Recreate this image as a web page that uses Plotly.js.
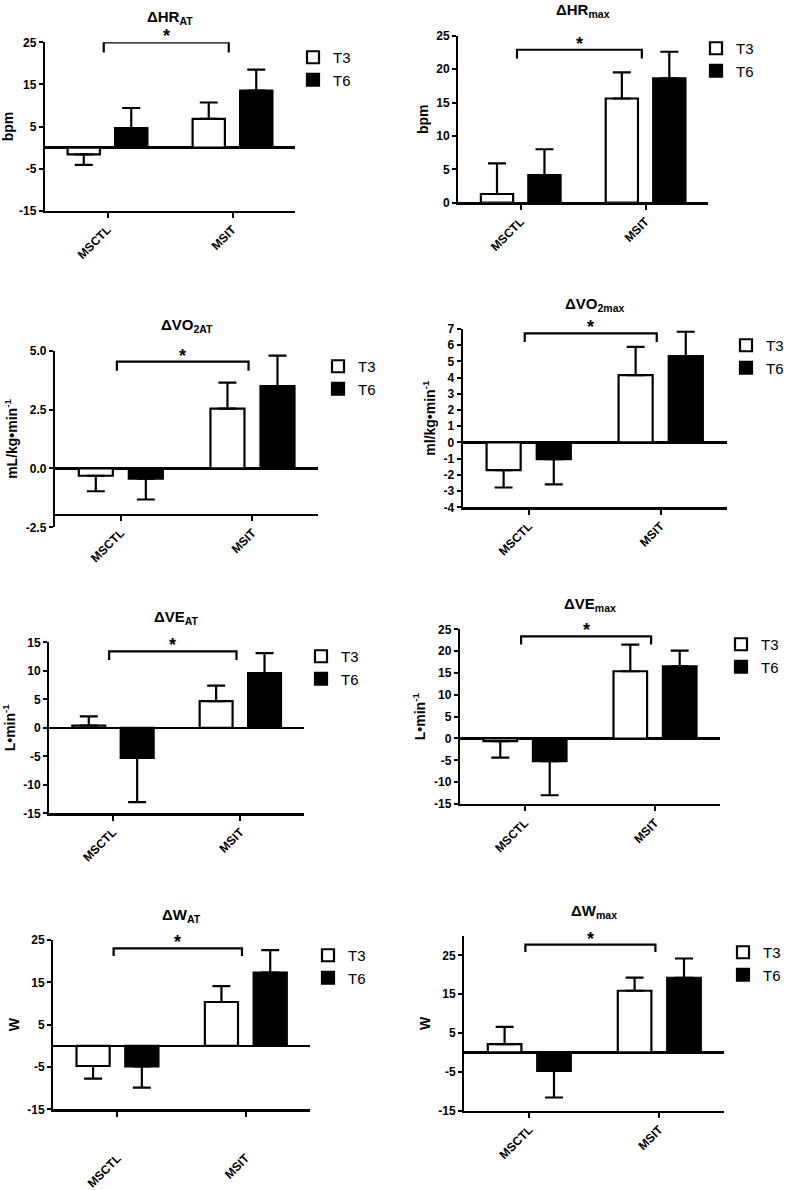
<!DOCTYPE html>
<html>
<head>
<meta charset="utf-8">
<script src="https://cdn.plot.ly/plotly-3.0.1.min.js"></script>
<style>html,body{margin:0;padding:0;background:#fff}</style>
</head>
<body>
<div id="chart" style="width:790px;height:1190px"></div>
<script>
// Groups and series
const groups = ['MSCTL', 'MSIT'];
const series = ['T3', 'T6'];

// Panel titles and units
const panelTitles = ['ΔHR<sub>AT</sub>', 'ΔHR<sub>max</sub>', 'ΔVO<sub>2AT</sub>', 'ΔVO<sub>2max</sub>',
                     'ΔVE<sub>AT</sub>', 'ΔVE<sub>max</sub>', 'ΔW<sub>AT</sub>', 'ΔW<sub>max</sub>'];
const unitTitles = ['bpm', 'bpm', 'mL/kg•min<sup>-1</sup>', 'ml/kg•min<sup>-1</sup>',
                    'L•min<sup>-1</sup>', 'L•min<sup>-1</sup>', 'W', 'W'];

// Mean change per panel, [MSCTL, MSIT]
const t3Mean = [[-1.6, 6.8], [1.3, 15.6], [-0.31, 2.54], [-1.71, 4.16],
                [0.4, 4.67], [-0.6, 15.4], [-4.77, 10.35], [2.14, 15.9]];
const t3Err  = [[2.5, 3.9], [4.6, 3.9], [0.66, 1.10], [1.07, 1.74],
                [1.6, 2.73], [3.8, 6.1], [2.98, 3.75], [4.46, 3.4]];
const t6Mean = [[4.6, 13.5], [4.15, 18.6], [-0.43, 3.50], [-1.03, 5.33],
                [-5.26, 9.58], [-5.2, 16.5], [-4.85, 17.3], [-4.74, 19.2]];
const t6Err  = [[4.8, 5.0], [3.85, 4.0], [0.89, 1.29], [1.55, 1.50],
                [7.79, 3.52], [7.8, 3.6], [5.05, 5.3], [6.86, 5.0]];

// Y scales and tick labels
const yRanges = [[-15, 25], [0, 25], [-2.5, 5], [-4, 7], [-15, 15], [-15, 25], [-15, 25], [-15, 30]];
const yTicks = [
  [-15, -5, 5, 15, 25],
  [0, 5, 10, 15, 20, 25],
  [-2.5, 0, 2.5, 5],
  [-4, -3, -2, -1, 0, 1, 2, 3, 4, 5, 6, 7],
  [-15, -10, -5, 0, 5, 10, 15],
  [-15, -10, -5, 0, 5, 10, 15, 20, 25],
  [-15, -5, 5, 15, 25],
  [-15, -5, 5, 15, 25]
];
const yTickText = [
  ['-15', '-5', '5', '15', '25'],
  ['0', '5', '10', '15', '20', '25'],
  ['-2.5', '0.0', '2.5', '5.0'],
  ['-4', '-3', '-2', '-1', '0', '1', '2', '3', '4', '5', '6', '7'],
  ['-15', '-10', '-5', '0', '5', '10', '15'],
  ['-15', '-10', '-5', '0', '5', '10', '15', '20', '25'],
  ['-15', '-5', '5', '15', '25'],
  ['-15', '-5', '5', '15', '25']
];

// Significance bracket MSCTL vs MSIT: bar height and end of legs
const bracketTop = [25, 22.9, 4.54, 6.73, 13.4, 23.4, 23.0, 27.8];
const bracketLeg = [22.6, 21.6, 4.15, 6.2, 11.9, 21.5, 21.2, 25.9];

// Layout: plot boxes in px [left, right, top, bottom], legend [text x, first item y]
const W = 790, H = 1190;
const boxes = [
  [45, 295, 42.3, 210.7], [458.3, 708, 35.7, 202.7],
  [55, 318.3, 350.7, 527.3], [462.7, 726.7, 329, 507.3],
  [49.3, 304, 642.3, 813.3], [460, 720, 629.3, 804],
  [53.3, 310, 940, 1109.3], [464.3, 724.3, 936, 1110.7]
];
const legendPos = [[337, 53], [740, 44], [362, 362], [770, 341],
                   [345, 652], [765, 640], [352, 951], [767, 948]];

const font = 'Liberation Sans, Arial, sans-serif';
const xIdx = groups.map((_, j) => j);

function oneSided(mean, err) {
  return {
    type: 'data', symmetric: false,
    array: mean.map((v, j) => v >= 0 ? err[j] : 0),
    arrayminus: mean.map((v, j) => v < 0 ? err[j] : 0),
    color: '#000', thickness: 2.2, width: 9
  };
}

const traces = [];
const layout = {
  width: W, height: H,
  margin: {l: 0, r: 0, t: 0, b: 0},
  paper_bgcolor: '#fff', plot_bgcolor: 'rgba(0,0,0,0)',
  barmode: 'group', bargap: 0.24, bargroupgap: 0.32,
  font: {family: font, color: '#000'},
  annotations: []
};

for (let i = 0; i < 8; i++) {
  const s = i === 0 ? '' : String(i + 1);
  const xa = 'x' + s, ya = 'y' + s, lg = 'legend' + s;
  const [l, r, t, b] = boxes[i];

  traces.push({
    type: 'bar', name: series[0], x: xIdx, y: t3Mean[i], xaxis: xa, yaxis: ya, legend: lg,
    marker: {color: '#fff', line: {color: '#000', width: 2.2}},
    error_y: oneSided(t3Mean[i], t3Err[i])
  });
  traces.push({
    type: 'bar', name: series[1], x: xIdx, y: t6Mean[i], xaxis: xa, yaxis: ya, legend: lg,
    marker: {color: '#000', line: {color: '#000', width: 2.2}},
    error_y: oneSided(t6Mean[i], t6Err[i])
  });
  // bracket
  traces.push({
    type: 'scatter', mode: 'lines', xaxis: xa, yaxis: ya, showlegend: false, cliponaxis: false,
    x: [xIdx[0] - 0.03, xIdx[0] - 0.03, xIdx[1] - 0.03, xIdx[1] - 0.03],
    y: [bracketLeg[i], bracketTop[i], bracketTop[i], bracketLeg[i]],
    line: {color: '#000', width: 2.2}
  });
  // star over the bracket
  layout.annotations.push({
    xref: xa, yref: ya, x: 0.47, y: bracketTop[i], yanchor: 'bottom', yshift: -6,
    showarrow: false, text: '*', font: {size: 18, weight: 'bold'}
  });

  layout['xaxis' + s] = {
    domain: [l / W, r / W], anchor: ya, type: 'linear', range: [-0.5, 1.5],
    tickvals: xIdx, ticktext: groups,
    showline: true, linewidth: 2.2, linecolor: '#000',
    ticks: 'outside', ticklen: 5, tickwidth: 2, tickcolor: '#000',
    tickangle: -45, tickfont: {size: 12, weight: 'bold'},
    showgrid: false, zeroline: false
  };
  layout['yaxis' + s] = {
    domain: [1 - b / H, 1 - t / H], anchor: xa, range: yRanges[i],
    tickvals: yTicks[i], ticktext: yTickText[i],
    showline: true, linewidth: 2.2, linecolor: '#000',
    ticks: 'outside', ticklen: 4, tickwidth: 2, tickcolor: '#000',
    tickfont: {size: 12, weight: 'bold'},
    showgrid: false, zeroline: true, zerolinewidth: 2.2, zerolinecolor: '#000',
    title: {text: unitTitles[i], font: {size: 14, weight: 'bold'}, standoff: 5}
  };
  layout[lg] = {
    x: (legendPos[i][0] - 44) / W, y: 1 - (legendPos[i][1] - 12) / H,
    xanchor: 'left', yanchor: 'top', bgcolor: 'rgba(0,0,0,0)',
    font: {size: 15, family: font}, tracegroupgap: 0
  };
  layout.annotations.push({
    xref: xa + ' domain', yref: ya + ' domain', x: 0.5, y: 1, yshift: 25,
    xanchor: 'center', yanchor: 'middle', showarrow: false,
    text: panelTitles[i], font: {size: 15, weight: 'bold'}
  });
}

// ΔVO2AT: x axis crosses at -2.0
layout.xaxis3.anchor = 'free';
layout.xaxis3.position = 1 - 515 / H;
// ΔWAT: tick labels set further below the axis
layout.xaxis7.ticklabelstandoff = 30;

Plotly.newPlot('chart', traces, layout, {staticPlot: true});
</script>
</body>
</html>
